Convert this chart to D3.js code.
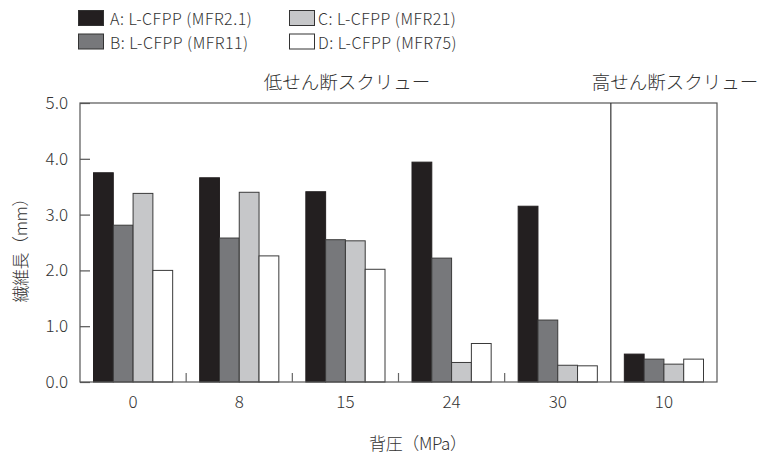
<!DOCTYPE html>
<meta charset="utf-8">
<style>
  body { margin: 0; background: #fff; }
  svg text { font-family: "Noto Sans CJK JP", "Noto Sans", sans-serif; font-weight: 300; fill: #333; }
</style>
<body>
<script src="https://cdn.jsdelivr.net/npm/d3@7"></script>
<script>
// categories (back pressure, MPa) - last one is the high shear screw
var groups = ["0", "8", "15", "24", "30", "10"];
var seriesNames = ["A: L-CFPP (MFR2.1)", "B: L-CFPP (MFR11)", "C: L-CFPP (MFR21)", "D: L-CFPP (MFR75)"];
var seriesA = [3.75, 3.66, 3.41, 3.94, 3.15, 0.50];
var seriesB = [2.81, 2.58, 2.55, 2.22, 1.11, 0.41];
var seriesC = [3.38, 3.40, 2.53, 0.35, 0.30, 0.32];
var seriesD = [2.00, 2.26, 2.02, 0.69, 0.29, 0.41];
var yTicks = [0, 1, 2, 3, 4, 5];
var colors = ["#231f20", "#77787b", "#c6c7c9", "#ffffff"];

var allSeries = [seriesA, seriesB, seriesC, seriesD];

var svg = d3.select("body").append("svg")
    .attr("width", 762)
    .attr("height", 456);

var pLeft = 80, pRight = 717, pTop = 103, pBottom = 382;

var x = d3.scaleBand().domain(groups.map(function(d, i) { return i; }))
    .range([pLeft, pRight]).padding(0);
var xs = d3.scaleBand().domain([0, 1, 2, 3])
    .range([13.5, x.bandwidth() - 13.5]).padding(0);
var y = d3.scaleLinear().domain([0, 5]).range([pBottom, pTop]);

// bars
groups.forEach(function(g, gi) {
  allSeries.forEach(function(s, si) {
    svg.append("rect")
      .attr("x", x(gi) + xs(si))
      .attr("y", y(s[gi]))
      .attr("width", xs.bandwidth())
      .attr("height", y(0) - y(s[gi]))
      .attr("fill", colors[si])
      .attr("stroke", si == 0 ? "#231f20" : "#3a3a3a")
      .attr("stroke-width", 1);
  });
});

// frame
svg.append("rect")
  .attr("x", pLeft).attr("y", pTop)
  .attr("width", pRight - pLeft).attr("height", pBottom - pTop)
  .attr("fill", "none").attr("stroke", "#555").attr("stroke-width", 1.2);

// divider between low / high shear
svg.append("line")
  .attr("x1", x(5)).attr("x2", x(5))
  .attr("y1", pTop).attr("y2", pBottom)
  .attr("stroke", "#333").attr("stroke-width", 1.2);

// y axis
var yAxis = svg.append("g")
  .attr("transform", "translate(" + pLeft + ",0)")
  .call(d3.axisLeft(y).tickValues(yTicks).tickSizeInner(-10).tickSizeOuter(0)
    .tickPadding(12).tickFormat(d3.format(".1f")));
yAxis.select(".domain").remove();
yAxis.selectAll("line").attr("stroke", "#555").attr("stroke-width", 1.2);
yAxis.selectAll("text").style("font-size", "17px");

// x axis labels
var xAxis = svg.append("g")
  .attr("transform", "translate(0," + pBottom + ")")
  .call(d3.axisBottom(x).tickSize(0).tickPadding(14)
    .tickFormat(function(i) { return groups[i]; }));
xAxis.select(".domain").remove();
xAxis.selectAll("text").style("font-size", "17px");

// little ticks between groups
[1, 2, 3, 4].forEach(function(i) {
  svg.append("line")
    .attr("x1", x(i)).attr("x2", x(i))
    .attr("y1", pBottom).attr("y2", pBottom - 9)
    .attr("stroke", "#666").attr("stroke-width", 1.2);
});

// section titles
svg.append("text")
  .attr("x", 347).attr("y", 89)
  .attr("text-anchor", "middle")
  .style("font-size", "18.5px")
  .text("低せん断スクリュー");
svg.append("text")
  .attr("x", 675).attr("y", 89)
  .attr("text-anchor", "middle")
  .style("font-size", "18.5px")
  .text("高せん断スクリュー");

// axis titles
svg.append("text")
  .attr("transform", "translate(27,246) rotate(-90)")
  .attr("text-anchor", "middle")
  .style("font-size", "17px")
  .attr("textLength", 113)
  .attr("lengthAdjust", "spacing")
  .text("繊維長（mm）");
svg.append("text")
  .attr("x", 418).attr("y", 450)
  .attr("text-anchor", "middle")
  .style("font-size", "17px")
  .attr("textLength", 98)
  .attr("lengthAdjust", "spacing")
  .text("背圧（MPa）");

// legend
var legPos = [[78, 10], [78, 33.5], [289, 10], [289, 33.5]];
seriesNames.forEach(function(n, i) {
  var g = svg.append("g").attr("transform", "translate(" + legPos[i][0] + "," + legPos[i][1] + ")");
  g.append("rect")
    .attr("x", 0.5).attr("y", 0.5)
    .attr("width", 25).attr("height", 15)
    .attr("fill", colors[i])
    .attr("stroke", "#333").attr("stroke-width", 1);
  g.append("text")
    .attr("x", i < 2 ? 32 : 29).attr("y", 15)
    .style("font-size", "16px")
    .style("letter-spacing", "0.5px")
    .text(n);
});
</script>
</body>
